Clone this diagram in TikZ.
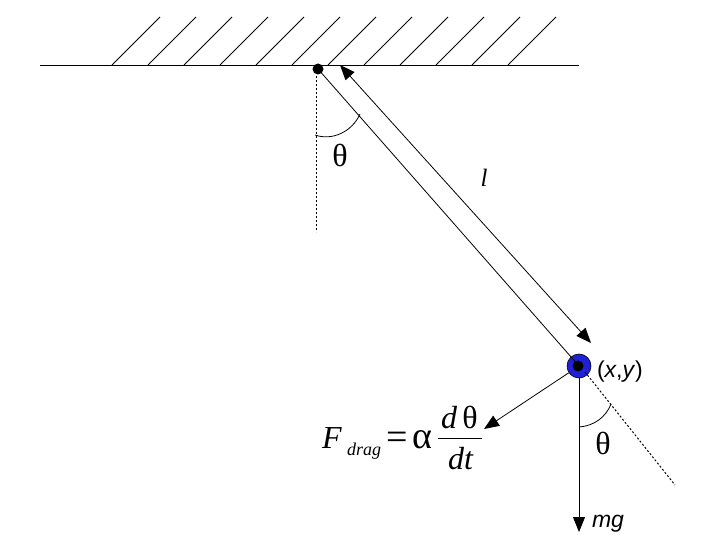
\documentclass[tikz,border=0pt]{standalone}
\usepackage{fontspec}
\setmainfont{Liberation Serif}
\setsansfont{Liberation Sans}
\usetikzlibrary{arrows.meta}
\definecolor{bobblue}{RGB}{32,32,216}
\tikzset{
  x=1pt,y=-1pt,
  line/.style={line width=0.8pt,black},
  dotline/.style={line width=1pt,black,dash pattern=on 2pt off 2pt},
  tip/.style={-{Triangle[length=15pt,width=12pt]}},
  bitip/.style={{Triangle[length=15pt,width=12pt]}-{Triangle[length=15pt,width=12pt]}},
  lab/.style={inner sep=0pt,outer sep=0pt},
  basew/.style={lab,anchor=base west},
  fbig/.style={font=\fontsize{32}{32}\selectfont},
  fsym/.style={font=\fontsize{38}{38}\selectfont},
  fsans/.style={font=\sffamily\fontsize{23}{23}\selectfont},
}
\begin{document}
\begin{tikzpicture}
\useasboundingbox (0,0) rectangle (727,553);
\fill[white] (0,0) rectangle (727,553);
\coordinate (wallL) at (40,65);
\coordinate (wallR) at (579,65);
\draw[line] (wallL) -- (wallR);
\foreach \x in {112,148,184,220,256,292,328,364,400,436,472,508}
  \draw[line] (\x,65) -- (\x+48,17);
\coordinate (vStart) at (316,72);
\coordinate (vEnd) at (316,232);
\draw[dotline] (vStart) -- (vEnd);
\node[circle,fill=black,minimum size=11pt,inner sep=0pt] (pivot) at (318,69) {};
\node[circle,fill=bobblue,draw=black,line width=0.6pt,minimum size=24pt,inner sep=0pt] (bob) at (579,366) {};
\draw[line] (pivot.center) -- (bob.center);
\node[circle,fill=black,minimum size=11pt,inner sep=0pt] (bobc) at (578,366) {};
\coordinate (lA) at (340,65);
\coordinate (lB) at (591,343);
\draw[line,bitip] (lA) -- (lB);
\draw[line] (315,135) .. controls (332,141) and (352,132) .. (360,114);
\node[lab,fbig] (th1) at (340,155) {θ};
\node[lab,font=\itshape\fontsize{25}{25}\selectfont] (ell) at (484,178) {l};
\node[basew,fsans] (xy) at (597,377) {(\textit{x},\textit{y})};
\coordinate (dragEnd) at (484,429);
\draw[line,tip] (bob) -- (dragEnd);
\coordinate (mgEnd) at (579,532);
\draw[line,tip] (bob) -- (mgEnd);
\coordinate (dotStart) at (585,372);
\coordinate (dotEnd) at (675,485);
\draw[dotline] (dotStart) -- (dotEnd);
\draw[line] (579,427) .. controls (594,426) and (606,417) .. (611,404);
\node[lab,fbig] (th2) at (603,443) {θ};
\node[basew,font=\sffamily\itshape\fontsize{23}{23}\selectfont] (mg) at (592,527) {mg};
\node[basew,fbig] (fF) at (322,448) {\textit{F}};
\node[basew,font=\itshape\fontsize{18}{18}\selectfont] (fdrag) at (347,455) {drag};
\node[basew,fsym] (feq) at (386,449) {=};
\node[basew,fsym] (falpha) at (412,448) {α};
\node[basew,fbig] (fnum) at (441,428) {\textit{d}\,θ};
\coordinate (fracL) at (438,438);
\coordinate (fracR) at (482,438);
\draw[line] (fracL) -- (fracR);
\node[basew,fbig] (fden) at (448,469) {\textit{dt}};
\end{tikzpicture}
\end{document}
